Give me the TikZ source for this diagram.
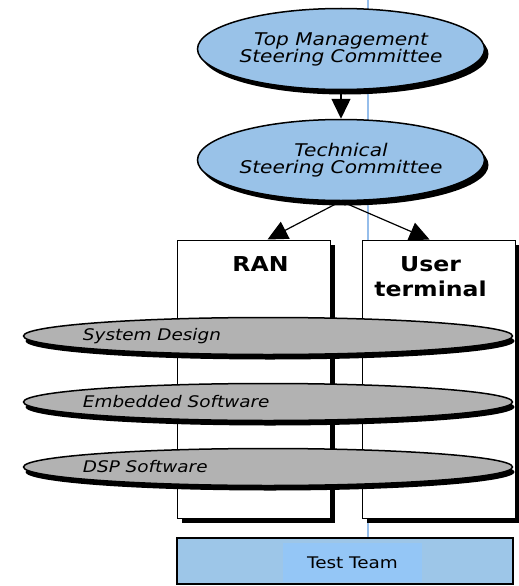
\documentclass[tikz,border=0pt]{standalone}
\usepackage{fontspec}
\setmainfont{DejaVu Sans}[FakeStretch=1.15]
\usetikzlibrary{shapes.geometric,shadows,arrows.meta,positioning}
\definecolor{boardblue}{RGB}{153,194,232}
\definecolor{layergray}{RGB}{178,178,178}
\definecolor{testblue}{RGB}{157,198,232}
\definecolor{testlight}{RGB}{148,198,246}
\definecolor{axisblue}{RGB}{150,190,235}
\tikzstyle{board}=[
        ellipse,
        draw = black,
        line width = 1.5pt,
        fill = boardblue,
        minimum width = 283pt,
        minimum height = 81pt,
        inner sep = 0pt,
        align = center,
        font = \fontsize{17.5}{17}\selectfont\itshape,
        drop shadow = {shadow xshift=4pt, shadow yshift=-5pt, fill=black, opacity=1}
    ]
\tikzstyle{layer}=[
    ellipse,
    draw = black,
    line width = 1.5pt,
    fill = layergray,
    minimum width = 489pt,
    minimum height = 37pt,
    inner sep = 0pt,
    drop shadow = {shadow xshift=2pt, shadow yshift=-5pt, fill=black, opacity=1}
]
\tikzstyle{unit}=[
    rectangle,
    draw = black,
    line width = 1pt,
    fill = white,
    minimum width = 153pt,
    minimum height = 278pt,
    inner sep = 0pt,
    drop shadow = {shadow xshift=5pt, shadow yshift=-5pt, fill=black, opacity=1}
]

\begin{document}
\begin{tikzpicture}[x=1pt, y=-1pt, >={Triangle[width=19pt,length=20pt]},
        unitname/.style = {inner sep=0pt, anchor=north, align=center, font=\fontsize{20.5}{25}\selectfont\bfseries},
        layername/.style = {inner sep=0pt, anchor=west, font=\fontsize{16}{16}\selectfont\itshape}]
        \useasboundingbox (0,0) rectangle (519,586);

        % light blue axis behind everything
        \coordinate (axis) at (368,0);
        \node[rectangle, draw=black, line width=1.5pt, fill=testblue, minimum width=336pt, minimum height=46pt] (test) at (345,561) {};
        \draw[axisblue, line width=1.2pt] (axis) -- (axis |- test.north);

        \node[unit] (ran) at (253.5,379) {};
        \node[unit] (ut) [right = 31pt of ran] {};
        \node[unitname] (ranname) [below = 17pt of ran.north, xshift=7pt] {RAN};
        \node[unitname] (utname) [below = 17pt of ut.north, xshift=-8pt] {User\\terminal};

        \node[layer] (sd) at (268,336) {};
        \node[layer] (es) at (268,402) {};
        \node[layer] (dsp) at (268,467) {};
        \node[layername] (sdname) [right = 60pt of sd.west] {System Design};
        \node[layername] (esname) [right = 60pt of es.west] {Embedded Software};
        \node[layername] (dspname) [right = 60pt of dsp.west] {DSP Software};

        \node[board] (top) at (341,49) {Top Management\\Steering Committee};
        \node[board] (tech) at (341,160) {Technical\\Steering Committee};

        \node[rectangle, fill=testlight, minimum width=139pt, minimum height=39pt, font=\fontsize{16}{16}\selectfont] (testname) at (352.5,562.5) {Test Team};

        \draw[->, line width=1.5pt] (top.south) -- (tech.north);
        \draw[->, line width=1.2pt] (tech.south) -- ([xshift=14pt]ran.north);
        \draw[->, line width=1.2pt] (tech.south) -- ([xshift=-9pt]ut.north);

    \end{tikzpicture}
\end{document}
